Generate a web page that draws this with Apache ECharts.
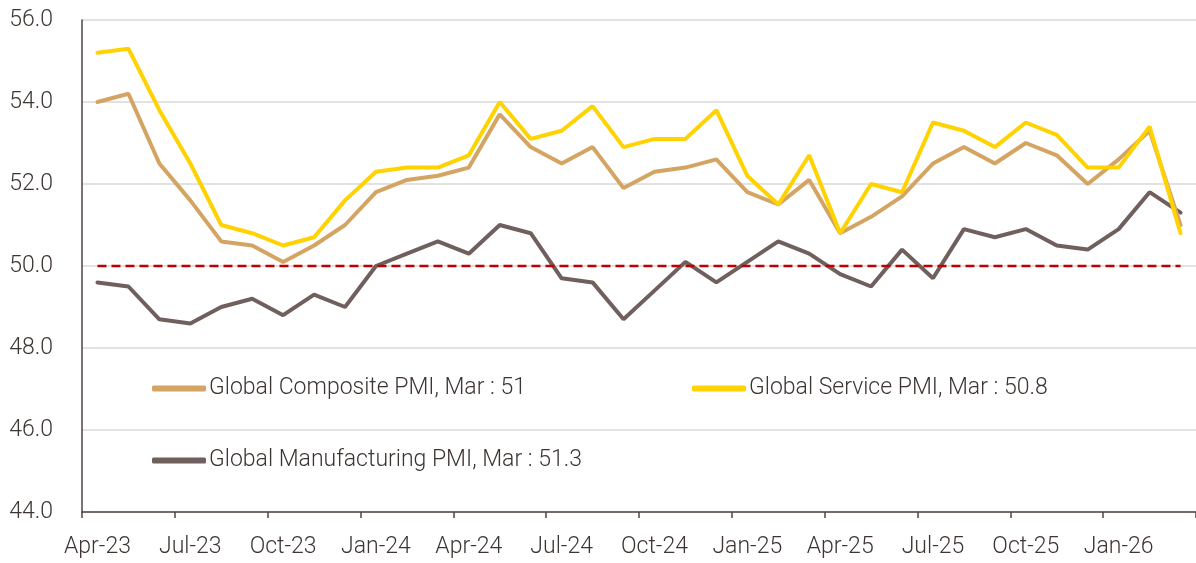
<!DOCTYPE html>
<html>
<head>
<meta charset="utf-8">
<script src="https://cdn.jsdelivr.net/npm/echarts@6/dist/echarts.min.js"></script>
<style>
  html, body { margin: 0; padding: 0; background: #fff; }
  #chart { width: 1196px; height: 563px; }
</style>
</head>
<body>
<div id="chart"></div>
<script>
// monthly readings, Apr-23 .. Mar-26
const months = [
  "Apr-23", "May-23", "Jun-23", "Jul-23", "Aug-23", "Sep-23", "Oct-23", "Nov-23", "Dec-23",
  "Jan-24", "Feb-24", "Mar-24", "Apr-24", "May-24", "Jun-24", "Jul-24", "Aug-24", "Sep-24",
  "Oct-24", "Nov-24", "Dec-24", "Jan-25", "Feb-25", "Mar-25", "Apr-25", "May-25", "Jun-25",
  "Jul-25", "Aug-25", "Sep-25", "Oct-25", "Nov-25", "Dec-25", "Jan-26", "Feb-26", "Mar-26"
];

const composite = [
  54.0, 54.2, 52.5, 51.6, 50.6, 50.5, 50.1, 50.5, 51.0,
  51.8, 52.1, 52.2, 52.4, 53.7, 52.9, 52.5, 52.9, 51.9,
  52.3, 52.4, 52.6, 51.8, 51.5, 52.1, 50.8, 51.2, 51.7,
  52.5, 52.9, 52.5, 53.0, 52.7, 52.0, 52.6, 53.3, 51.0
];
const service = [
  55.2, 55.3, 53.8, 52.5, 51.0, 50.8, 50.5, 50.7, 51.6,
  52.3, 52.4, 52.4, 52.7, 54.0, 53.1, 53.3, 53.9, 52.9,
  53.1, 53.1, 53.8, 52.2, 51.5, 52.7, 50.8, 52.0, 51.8,
  53.5, 53.3, 52.9, 53.5, 53.2, 52.4, 52.4, 53.4, 50.8
];
const manufacturing = [
  49.6, 49.5, 48.7, 48.6, 49.0, 49.2, 48.8, 49.3, 49.0,
  50.0, 50.3, 50.6, 50.3, 51.0, 50.8, 49.7, 49.6, 48.7,
  49.4, 50.1, 49.6, 50.1, 50.6, 50.3, 49.8, 49.5, 50.4,
  49.7, 50.9, 50.7, 50.9, 50.5, 50.4, 50.9, 51.8, 51.3
];
const threshold = months.map(() => 50);

const names = [
  "Global Composite PMI, Mar : 51",
  "Global Service PMI, Mar : 50.8",
  "Global Manufacturing PMI, Mar : 51.3"
];

const FONT = "Roboto, 'Open Sans', sans-serif";
const TEXT = "#3d3532";
const AXIS = "#4f4542";

const chart = echarts.init(document.getElementById("chart"));

const legendBase = {
  icon: "roundRect",
  itemWidth: 54,
  itemHeight: 6,
  itemGap: 0,
  padding: 0,
  selectedMode: false,
  textStyle: { fontFamily: FONT, fontSize: 23, fontWeight: 300, color: TEXT, padding: [0, 0, 0, -2] }
};

chart.setOption({
  animation: false,
  grid: { left: 82, right: -5, top: 20, bottom: 51, containLabel: false },
  legend: [
    Object.assign({ data: [names[0]], left: 152, top: 377 }, legendBase),
    Object.assign({ data: [names[1]], left: 692, top: 377 }, legendBase),
    Object.assign({ data: [names[2]], left: 152, top: 449 }, legendBase)
  ],
  xAxis: {
    type: "category",
    data: months,
    boundaryGap: true,
    axisLine: { show: true, lineStyle: { color: AXIS, width: 1.5 } },
    axisTick: { show: true, interval: 2, length: 6, lineStyle: { color: AXIS, width: 1.5 } },
    splitLine: { show: false },
    axisLabel: {
      interval: 2,
      margin: 24,
      fontFamily: FONT,
      fontSize: 23,
      fontWeight: 300,
      color: TEXT
    }
  },
  yAxis: {
    type: "value",
    min: 44,
    max: 56,
    interval: 2,
    axisLine: { show: true, lineStyle: { color: AXIS, width: 1.5 } },
    axisTick: { show: false },
    splitLine: { lineStyle: { color: "#d9d9d9", width: 1.5 } },
    axisLabel: {
      margin: 29,
      fontFamily: FONT,
      fontSize: 23,
      fontWeight: 300,
      color: TEXT,
      formatter: v => v.toFixed(1)
    }
  },
  series: [
    {
      name: names[2],
      type: "line",
      data: manufacturing,
      showSymbol: false,
      color: "#6f605d",
      lineStyle: { width: 4, color: "#6f605d", cap: "round" }
    },
    {
      name: names[0],
      type: "line",
      data: composite,
      showSymbol: false,
      color: "#d4a462",
      lineStyle: { width: 4, color: "#d4a462", cap: "round" }
    },
    {
      name: names[1],
      type: "line",
      data: service,
      showSymbol: false,
      color: "#ffd200",
      lineStyle: { width: 4, color: "#ffd200", cap: "round" }
    },
    {
      name: "threshold",
      type: "line",
      data: threshold,
      showSymbol: false,
      lineStyle: { width: 2.5, color: "#c00000", type: [9, 5] }
    }
  ]
});
</script>
</body>
</html>
